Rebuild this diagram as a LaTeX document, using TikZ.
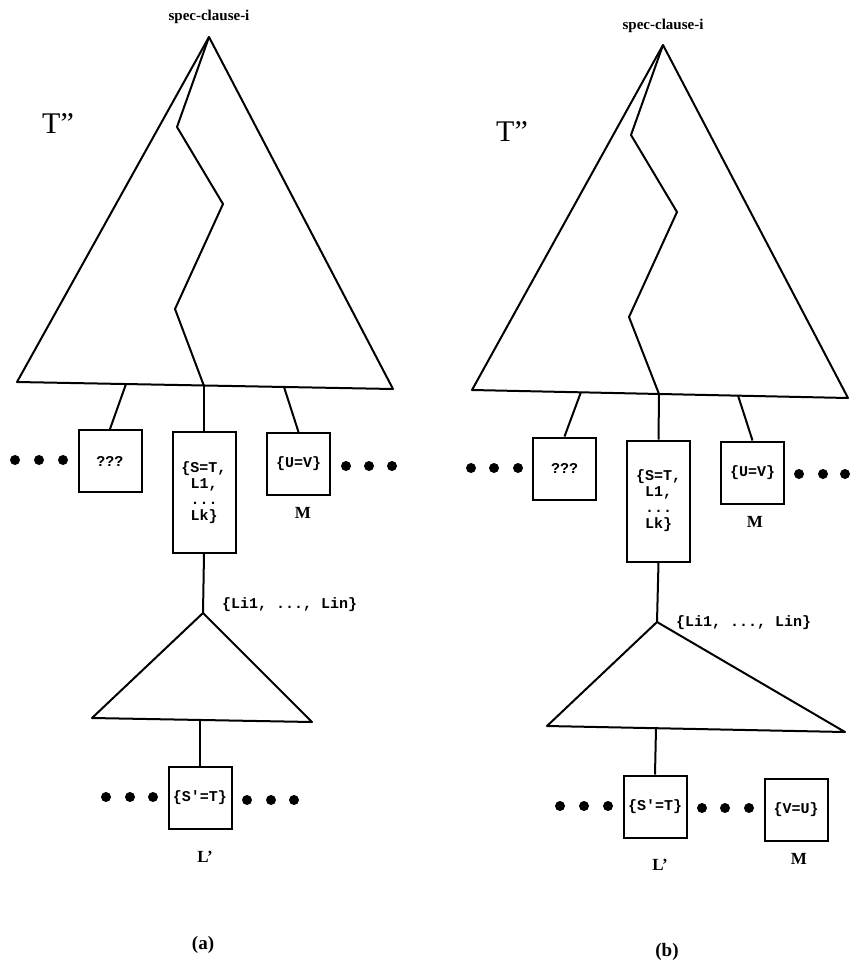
\documentclass[tikz,border=0pt]{standalone}
\usepackage{fontspec}
\setmainfont{Liberation Serif}
\setmonofont{Liberation Mono}
\begin{document}
\begin{tikzpicture}[x=1pt,y=-1pt,
  edge/.style={line width=2pt,line join=round},
  tbox/.style={draw,line width=2pt,minimum width=63pt,minimum height=62pt,inner sep=0pt,
    font=\ttfamily\bfseries\fontsize{15}{16}\selectfont},
  tallbox/.style={tbox,minimum height=121pt,align=center},
  dotmark/.style={circle,fill,inner sep=0pt,minimum size=10pt},
  lbl/.style={inner sep=0pt,font=\bfseries\fontsize{17}{18}\selectfont},
  caplbl/.style={inner sep=0pt,font=\bfseries\fontsize{19}{20}\selectfont},
  listlbl/.style={inner sep=0pt,anchor=west,font=\ttfamily\bfseries\fontsize{15}{16}\selectfont},
  rootlbl/.style={inner sep=0pt,font=\bfseries\fontsize{15}{16}\selectfont},
  treelbl/.style={inner sep=0pt,font=\fontsize{30}{32}\selectfont}]
\useasboundingbox (0,0) rectangle (851,969);

% ---------------- panel (a) ----------------
\coordinate (apA) at (209,37);
\coordinate (blA) at (17,382);
\coordinate (brA) at (393,389);
\coordinate (p1A) at (177,127);
\coordinate (p2A) at (223,204);
\coordinate (p3A) at (175,309);
\coordinate (p4A) at (204,386);
\coordinate (jqA) at (126,384);
\coordinate (juA) at (284,387);
\node[rootlbl] (rootA) at (209,17) {spec-clause-i};
\node[treelbl] (tA) at (58,124) {T”};
\draw[edge] (apA) -- (blA) -- (brA) -- cycle;
\draw[edge] (apA) -- (p1A) -- (p2A) -- (p3A) -- (p4A);

\node[tbox] (qA) at (110,461) {???};
\node[tallbox] (midA) at (204,492.5) {\{S=T,\\L1,\\...\\Lk\}};
\node[tbox] (uvA) at (298.5,464) {\{U=V\}};
\node[lbl] (mA) at (303,513) {M};
\draw[edge] (jqA) -- (qA.north);
\draw[edge] (p4A) -- (midA.north);
\draw[edge] (juA) -- (uvA.north);

\node[dotmark] (da1) at (15,460) {};
\node[dotmark] (da2) at (39,460) {};
\node[dotmark] (da3) at (63,460) {};
\node[dotmark] (da4) at (346,466) {};
\node[dotmark] (da5) at (369,466) {};
\node[dotmark] (da6) at (392,466) {};

\coordinate (sapA) at (203,613);
\coordinate (sblA) at (92,718);
\coordinate (sbrA) at (312,722);
\coordinate (sjA) at (200,720);
\draw[edge] (midA.south) -- (sapA);
\node[listlbl] (liA) at (222,605) {\{Li1, ..., Lin\}};
\draw[edge] (sapA) -- (sblA) -- (sbrA) -- cycle;

\node[tbox] (stA) at (200,798) {\{S'=T\}};
\draw[edge] (sjA) -- (stA.north);
\node[lbl] (lpA) at (205,857) {L’};
\node[dotmark] (db1) at (106,797) {};
\node[dotmark] (db2) at (130,797) {};
\node[dotmark] (db3) at (153,797) {};
\node[dotmark] (db4) at (247,800) {};
\node[dotmark] (db5) at (271,800) {};
\node[dotmark] (db6) at (294,800) {};
\node[caplbl] (capA) at (203,945) {(a)};

% ---------------- panel (b) ----------------
\coordinate (apB) at (663,45);
\coordinate (blB) at (472,390);
\coordinate (brB) at (848,398);
\coordinate (p1B) at (631,135);
\coordinate (p2B) at (677,212);
\coordinate (p3B) at (629,317);
\coordinate (p4B) at (659,394);
\coordinate (jqB) at (581,392);
\coordinate (juB) at (738,395.5);
\node[rootlbl] (rootB) at (663,26) {spec-clause-i};
\node[treelbl] (tB) at (512,132) {T”};
\draw[edge] (apB) -- (blB) -- (brB) -- cycle;
\draw[edge] (apB) -- (p1B) -- (p2B) -- (p3B) -- (p4B);

\node[tbox] (qB) at (564.5,468.5) {???};
\node[tallbox] (midB) at (658.5,501) {\{S=T,\\L1,\\...\\Lk\}};
\node[tbox] (uvB) at (752.5,472.5) {\{U=V\}};
\node[lbl] (mB) at (755,522) {M};
\draw[edge] (jqB) -- (qB.north);
\draw[edge] (p4B) -- (midB.north);
\draw[edge] (juB) -- (uvB.north);

\node[dotmark] (dc1) at (471,468) {};
\node[dotmark] (dc2) at (494,468) {};
\node[dotmark] (dc3) at (518,468) {};
\node[dotmark] (dc4) at (799,474) {};
\node[dotmark] (dc5) at (823,474) {};
\node[dotmark] (dc6) at (845,474) {};

\coordinate (sapB) at (657,622);
\coordinate (sblB) at (547,726);
\coordinate (sbrB) at (845,732);
\coordinate (sjB) at (656,728);
\draw[edge] (midB.south) -- (sapB);
\node[listlbl] (liB) at (676,623) {\{Li1, ..., Lin\}};
\draw[edge] (sapB) -- (sblB) -- (sbrB) -- cycle;

\node[tbox] (stB) at (655,806.5) {\{S'=T\}};
\node[tbox] (vuB) at (796,809.5) {\{V=U\}};
\draw[edge] (sjB) -- (stB.north);
\node[lbl] (lpB) at (660,865) {L’};
\node[lbl] (mB2) at (799,859) {M};
\node[dotmark] (dd1) at (560,806) {};
\node[dotmark] (dd2) at (584,806) {};
\node[dotmark] (dd3) at (608,806) {};
\node[dotmark] (dd4) at (702,808) {};
\node[dotmark] (dd5) at (725,808) {};
\node[dotmark] (dd6) at (749,808) {};
\node[caplbl] (capB) at (667,952) {(b)};
\end{tikzpicture}
\end{document}
